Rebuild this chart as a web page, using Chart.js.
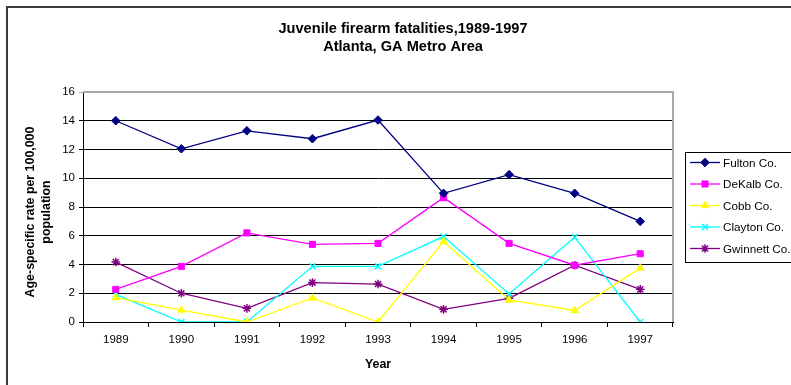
<!DOCTYPE html>
<html>
<head>
<meta charset="utf-8">
<script src="https://cdn.jsdelivr.net/npm/chart.js@4/dist/chart.umd.min.js"></script>
<style>
  html, body { margin: 0; padding: 0; background: #fff; }
  #wrap { width: 791px; height: 385px; position: relative; }
</style>
</head>
<body>
<div id="wrap"><canvas id="myChart" width="791" height="385"></canvas></div>
<script>
const years = ['1989', '1990', '1991', '1992', '1993', '1994', '1995', '1996', '1997'];
const fulton = [14.0, 12.05, 13.3, 12.75, 14.05, 8.95, 10.25, 8.95, 7.0];
const dekalb = [2.27, 3.87, 6.2, 5.4, 5.47, 8.65, 5.47, 3.95, 4.75];
const cobb = [1.7, 0.83, 0, 1.67, 0, 5.6, 1.53, 0.8, 3.75];
const clayton = [1.92, 0, 0, 3.87, 3.87, 5.94, 1.95, 5.9, 0];
const gwinnett = [4.17, 2.0, 0.95, 2.74, 2.64, 0.88, 1.65, 3.95, 2.27];

const titleLines = ['Juvenile firearm fatalities,1989-1997', 'Atlanta, GA Metro Area'];
const yTitleLines = ['Age-specific rate per 100,000', 'population'];
const xTitle = 'Year';

const FONT = '"Liberation Sans", Arial, sans-serif';

function series(label, data, color, style) {
  return {
    label: label,
    data: data,
    borderColor: color,
    backgroundColor: color,
    borderWidth: 1.3,
    pointStyle: style,
    pointRadius: 4.3,
    pointBorderWidth: style === 'crossRot' || style === 'star' ? 1.5 : 1,
    pointHoverRadius: 4.3,
    tension: 0
  };
}

// frame, titles and the boxed legend
const decor = {
  id: 'decor',
  beforeDraw(chart) {
    const ctx = chart.ctx;
    ctx.save();
    ctx.strokeStyle = '#3a3a3a';
    ctx.lineWidth = 2;
    ctx.beginPath();
    ctx.moveTo(7, 400); ctx.lineTo(7, 7); ctx.lineTo(800, 7);
    ctx.stroke();
    ctx.restore();
  },
  afterDraw(chart) {
    const ctx = chart.ctx;
    const a = chart.chartArea;
    ctx.save();
    // plot border (top/right grey)
    ctx.strokeStyle = '#a8a8a8';
    ctx.lineWidth = 2;
    ctx.beginPath();
    ctx.moveTo(a.left, a.top); ctx.lineTo(a.right, a.top); ctx.lineTo(a.right, a.bottom);
    ctx.stroke();

    ctx.fillStyle = '#000';
    ctx.textAlign = 'center';
    ctx.textBaseline = 'middle';
    ctx.font = 'bold 14.6px ' + FONT;
    ctx.fillText(titleLines[0], 403, 29);
    ctx.fillText(titleLines[1], 403, 47);

    ctx.font = 'bold 12.4px ' + FONT;
    ctx.fillText(xTitle, 378, 365);

    ctx.save();
    ctx.translate(39, 212);
    ctx.rotate(-Math.PI / 2);
    ctx.fillText(yTitleLines[0], 0, -8);
    ctx.fillText(yTitleLines[1], 0, 8);
    ctx.restore();

    // legend
    ctx.strokeStyle = '#000';
    ctx.lineWidth = 1;
    ctx.strokeRect(685.5, 152.5, 110, 110);
    ctx.textAlign = 'left';
    ctx.font = '11.7px ' + FONT;
    chart.data.datasets.forEach((ds, i) => {
      const y = 162.5 + i * 21.5;
      ctx.strokeStyle = ds.borderColor;
      ctx.fillStyle = ds.backgroundColor;
      ctx.lineWidth = 1.3;
      ctx.beginPath();
      ctx.moveTo(690, y); ctx.lineTo(720, y);
      ctx.stroke();
      ctx.lineWidth = ds.pointBorderWidth;
      Chart.helpers.drawPoint(ctx, {
        pointStyle: ds.pointStyle, radius: 4.3, rotation: 0,
        borderWidth: ds.pointBorderWidth
      }, 705, y);
      ctx.fillStyle = '#000';
      ctx.fillText(ds.label, 723, y + 1);
    });
    ctx.restore();
  }
};

new Chart(document.getElementById('myChart'), {
  type: 'line',
  data: {
    labels: years,
    datasets: [
      series('Fulton Co.', fulton, '#000080', 'rectRot'),
      series('DeKalb Co.', dekalb, '#FF00FF', 'rect'),
      series('Cobb Co.', cobb, '#FFFF00', 'triangle'),
      series('Clayton Co.', clayton, '#00FFFF', 'crossRot'),
      series('Gwinnett Co.', gwinnett, '#800080', 'star')
    ]
  },
  options: {
    responsive: false,
    animation: false,
    events: [],
    layout: { padding: { left: 0, right: 118, top: 92, bottom: 0 } },
    plugins: { legend: { display: false }, title: { display: false }, tooltip: { enabled: false } },
    scales: {
      x: {
        offset: true,
        grid: { offset: true, drawOnChartArea: false, drawTicks: true, tickLength: 5, color: '#000' },
        border: { color: '#000', width: 1 },
        ticks: { color: '#000', font: { family: FONT, size: 11.5 }, padding: 6, maxRotation: 0 },
        afterFit(s) { s.height = 63; }
      },
      y: {
        min: 0, max: 16,
        ticks: { stepSize: 2, color: '#000', font: { family: FONT, size: 11.5 }, padding: 4 },
        grid: {
          color: c => c.tick && c.tick.value === 16 ? '#a8a8a8' : '#000',
          drawTicks: true, tickLength: 4
        },
        border: { color: '#000', width: 1 },
        afterFit(s) { s.width = 83; }
      }
    }
  },
  plugins: [decor]
});
</script>
</body>
</html>
